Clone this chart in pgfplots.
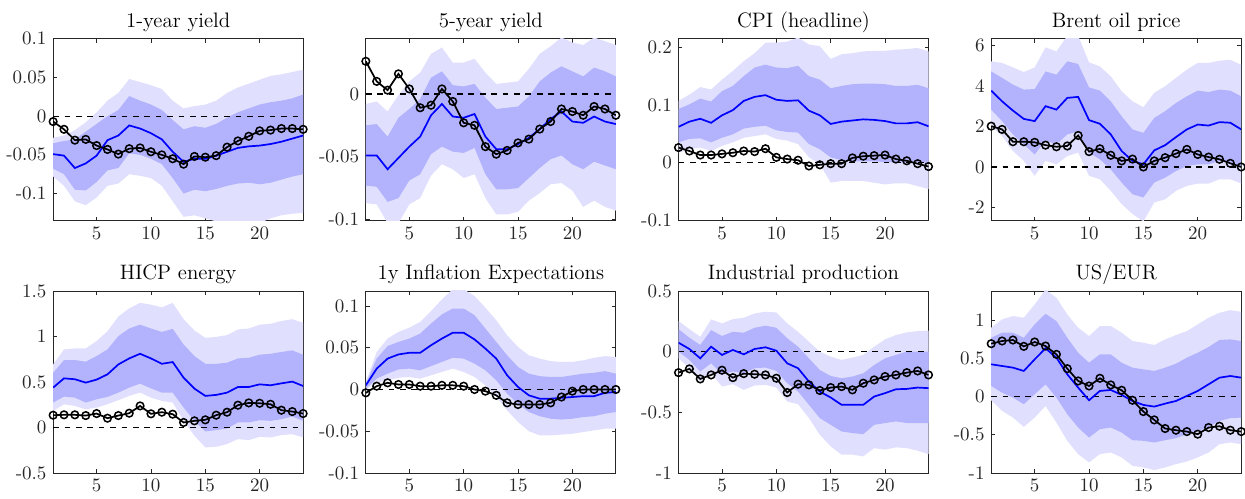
\documentclass[border=0pt]{standalone}
\usepackage{pgfplots}
\pgfplotsset{compat=1.18}
\usepackage{pgfplotstable}
\usepgfplotslibrary{groupplots,fillbetween}

\definecolor{bandlight}{RGB}{224,224,254}
\definecolor{banddark}{RGB}{179,179,253}
\definecolor{axgray}{RGB}{38,38,38}

% columns: horizon, 90% low, 68% low, 68% high, 90% high, median, point estimate
\pgfplotstableread{
x ll dl du lu med blk
1 -0.078 -0.068 -0.035 -0.028 -0.049 -0.007
2 -0.090 -0.075 -0.032 -0.025 -0.051 -0.017
3 -0.110 -0.095 -0.030 -0.018 -0.067 -0.031
4 -0.115 -0.096 -0.020 -0.008 -0.061 -0.030
5 -0.105 -0.085 -0.010 0.005 -0.051 -0.038
6 -0.090 -0.070 0.000 0.020 -0.031 -0.043
7 -0.087 -0.067 0.008 0.030 -0.025 -0.049
8 -0.075 -0.048 0.026 0.048 -0.012 -0.042
9 -0.077 -0.050 0.020 0.044 -0.016 -0.041
10 -0.080 -0.055 0.015 0.040 -0.022 -0.046
11 -0.090 -0.062 0.008 0.035 -0.030 -0.050
12 -0.110 -0.080 -0.005 0.020 -0.046 -0.055
13 -0.130 -0.100 -0.017 0.010 -0.059 -0.062
14 -0.128 -0.095 -0.013 0.013 -0.055 -0.052
15 -0.132 -0.097 -0.015 0.015 -0.055 -0.053
16 -0.136 -0.094 -0.010 0.020 -0.051 -0.051
17 -0.138 -0.090 -0.002 0.030 -0.046 -0.040
18 -0.138 -0.087 0.005 0.037 -0.041 -0.032
19 -0.138 -0.086 0.010 0.042 -0.039 -0.026
20 -0.138 -0.088 0.015 0.047 -0.038 -0.019
21 -0.132 -0.086 0.018 0.052 -0.036 -0.018
22 -0.128 -0.082 0.020 0.054 -0.033 -0.016
23 -0.126 -0.078 0.023 0.057 -0.029 -0.016
24 -0.125 -0.075 0.028 0.060 -0.025 -0.017
}\tabA

\pgfplotstableread{
x ll dl du lu med blk
1 -0.087 -0.073 -0.025 -0.008 -0.049 0.026
2 -0.088 -0.074 -0.024 -0.006 -0.049 0.010
3 -0.103 -0.086 -0.034 -0.014 -0.060 0.003
4 -0.103 -0.083 -0.019 -0.001 -0.051 0.016
5 -0.088 -0.069 -0.012 0.010 -0.042 0.004
6 -0.083 -0.064 -0.004 0.017 -0.034 -0.011
7 -0.065 -0.048 0.013 0.032 -0.017 -0.009
8 -0.056 -0.042 0.018 0.037 -0.008 0.004
9 -0.060 -0.046 0.007 0.025 -0.018 -0.006
10 -0.067 -0.047 0.006 0.025 -0.019 -0.023
11 -0.064 -0.043 0.008 0.028 -0.016 -0.025
12 -0.083 -0.064 -0.003 0.017 -0.034 -0.042
13 -0.096 -0.076 -0.012 0.008 -0.044 -0.048
14 -0.096 -0.076 -0.011 0.009 -0.044 -0.045
15 -0.094 -0.075 -0.010 0.010 -0.040 -0.039
16 -0.085 -0.067 -0.002 0.020 -0.035 -0.036
17 -0.079 -0.059 0.010 0.032 -0.028 -0.028
18 -0.072 -0.052 0.017 0.038 -0.020 -0.022
19 -0.071 -0.049 0.022 0.045 -0.014 -0.012
20 -0.077 -0.056 0.018 0.041 -0.022 -0.014
21 -0.090 -0.060 0.014 0.039 -0.023 -0.017
22 -0.085 -0.054 0.021 0.045 -0.018 -0.010
23 -0.090 -0.057 0.018 0.042 -0.022 -0.012
24 -0.093 -0.060 0.014 0.039 -0.024 -0.017
}\tabB

\pgfplotstableread{
x ll dl du lu med blk
1 0.017 0.035 0.093 0.107 0.062 0.026
2 0.023 0.041 0.101 0.118 0.071 0.020
3 0.026 0.042 0.111 0.131 0.076 0.013
4 0.020 0.035 0.106 0.127 0.069 0.013
5 0.029 0.043 0.124 0.144 0.082 0.015
6 0.035 0.049 0.133 0.159 0.091 0.017
7 0.043 0.059 0.150 0.176 0.107 0.020
8 0.046 0.062 0.165 0.190 0.114 0.019
9 0.049 0.064 0.170 0.208 0.117 0.024
10 0.041 0.056 0.165 0.208 0.109 0.009
11 0.038 0.053 0.164 0.210 0.107 0.006
12 0.032 0.052 0.168 0.217 0.108 0.004
13 0.009 0.032 0.150 0.205 0.090 -0.006
14 -0.003 0.023 0.144 0.202 0.082 -0.004
15 -0.035 0.009 0.129 0.180 0.067 -0.002
16 -0.032 0.004 0.133 0.188 0.071 -0.002
17 -0.032 0.002 0.136 0.190 0.073 0.008
18 -0.032 0.002 0.137 0.193 0.075 0.011
19 -0.035 0.002 0.137 0.194 0.074 0.012
20 -0.038 0.001 0.136 0.194 0.072 0.013
21 -0.036 0.000 0.133 0.196 0.068 0.006
22 -0.036 0.000 0.133 0.197 0.068 0.003
23 -0.041 0.001 0.135 0.199 0.070 -0.002
24 -0.046 -0.001 0.129 0.193 0.063 -0.007
}\tabC

\pgfplotstableread{
x ll dl du lu med blk
1 2.02 2.84 4.73 5.23 3.78 2.02
2 1.53 2.27 4.41 5.15 3.25 1.86
3 0.79 1.61 4.08 4.93 2.79 1.25
4 0.30 1.12 3.83 4.70 2.38 1.25
5 -0.44 0.62 3.86 4.93 2.27 1.22
6 0.30 1.31 4.73 5.92 3.01 1.08
7 0.13 1.12 4.57 5.72 2.84 1.00
8 0.54 1.61 5.23 6.50 3.42 1.04
9 0.71 1.77 5.10 6.50 3.47 1.56
10 -0.44 0.71 3.94 5.18 2.32 0.76
11 -0.61 0.38 3.78 4.98 2.14 0.90
12 -1.18 -0.12 3.25 4.49 1.61 0.58
13 -1.84 -0.77 2.51 3.75 0.79 0.30
14 -2.33 -1.35 1.86 3.25 0.30 0.39
15 -2.70 -1.51 1.69 2.96 0.13 0.00
16 -1.76 -0.77 2.43 3.67 0.82 0.30
17 -1.60 -0.53 2.76 4.00 1.08 0.46
18 -1.18 -0.20 3.17 4.41 1.48 0.66
19 -0.94 0.05 3.50 4.82 1.86 0.87
20 -0.82 0.13 3.78 5.15 2.10 0.62
21 -0.82 0.13 3.71 5.15 2.05 0.49
22 -0.61 0.30 3.83 5.26 2.22 0.38
23 -0.61 0.25 3.78 5.31 2.19 0.18
24 -0.82 -0.03 3.50 5.06 1.86 0.00
}\tabD

\pgfplotstableread{
x ll dl du lu med blk
1 0.182 0.274 0.602 0.693 0.438 0.135
2 0.255 0.339 0.741 0.858 0.540 0.139
3 0.237 0.328 0.741 0.869 0.530 0.139
4 0.200 0.274 0.723 0.869 0.493 0.131
5 0.219 0.310 0.785 0.950 0.526 0.153
6 0.255 0.336 0.858 1.058 0.584 0.102
7 0.300 0.383 1.004 1.220 0.693 0.131
8 0.347 0.438 1.088 1.310 0.759 0.157
9 0.383 0.482 1.130 1.370 0.810 0.237
10 0.328 0.430 1.088 1.350 0.759 0.150
11 0.292 0.383 1.050 1.320 0.700 0.168
12 0.274 0.383 1.084 1.370 0.719 0.146
13 0.073 0.219 0.912 1.190 0.547 0.055
14 -0.091 0.073 0.785 1.066 0.427 0.073
15 -0.219 -0.044 0.700 0.985 0.347 0.084
16 -0.212 -0.029 0.700 0.996 0.358 0.135
17 -0.182 -0.011 0.712 1.015 0.383 0.168
18 -0.128 0.055 0.759 1.077 0.445 0.245
19 -0.139 0.055 0.766 1.088 0.445 0.270
20 -0.102 0.080 0.800 1.130 0.474 0.266
21 -0.110 0.073 0.810 1.140 0.464 0.255
22 -0.084 0.091 0.830 1.170 0.485 0.190
23 -0.073 0.120 0.847 1.190 0.504 0.175
24 -0.110 0.073 0.800 1.150 0.456 0.153
}\tabE

\pgfplotstableread{
x ll dl du lu med blk
1 0.000 0.001 0.007 0.009 0.005 -0.004
2 0.008 0.013 0.037 0.045 0.025 0.004
3 0.011 0.019 0.052 0.061 0.037 0.008
4 0.014 0.024 0.057 0.069 0.042 0.006
5 0.015 0.025 0.061 0.074 0.044 0.006
6 0.013 0.023 0.067 0.081 0.044 0.004
7 0.017 0.028 0.079 0.094 0.053 0.004
8 0.021 0.033 0.090 0.108 0.061 0.005
9 0.025 0.038 0.097 0.120 0.068 0.005
10 0.021 0.037 0.097 0.120 0.068 0.004
11 0.015 0.031 0.089 0.112 0.060 0.000
12 0.005 0.023 0.073 0.098 0.049 -0.002
13 -0.009 0.011 0.057 0.083 0.037 -0.007
14 -0.025 -0.005 0.041 0.065 0.017 -0.016
15 -0.039 -0.017 0.027 0.051 0.003 -0.018
16 -0.050 -0.027 0.019 0.041 -0.007 -0.018
17 -0.055 -0.032 0.016 0.037 -0.011 -0.018
18 -0.055 -0.035 0.015 0.034 -0.011 -0.016
19 -0.054 -0.036 0.015 0.033 -0.010 -0.009
20 -0.053 -0.035 0.017 0.033 -0.009 -0.002
21 -0.051 -0.033 0.019 0.035 -0.008 0.000
22 -0.049 -0.032 0.020 0.038 -0.008 0.000
23 -0.047 -0.029 0.022 0.040 -0.004 0.000
24 -0.047 -0.027 0.019 0.039 -0.003 0.000
}\tabF

\pgfplotstableread{
x ll dl du lu med blk
1 -0.055 0.000 0.186 0.252 0.074 -0.173
2 -0.137 -0.068 0.115 0.186 0.022 -0.142
3 -0.247 -0.164 0.055 0.123 -0.055 -0.225
4 -0.178 -0.096 0.178 0.266 0.041 -0.192
5 -0.288 -0.186 0.129 0.233 -0.027 -0.153
6 -0.268 -0.164 0.164 0.268 0.014 -0.214
7 -0.315 -0.178 0.156 0.279 -0.022 -0.181
8 -0.279 -0.137 0.197 0.315 0.022 -0.186
9 -0.274 -0.131 0.214 0.329 0.036 -0.192
10 -0.296 -0.159 0.197 0.323 0.008 -0.219
11 -0.411 -0.260 0.110 0.233 -0.096 -0.337
12 -0.433 -0.329 0.041 0.164 -0.137 -0.268
13 -0.548 -0.438 -0.055 0.082 -0.247 -0.274
14 -0.685 -0.548 -0.151 0.000 -0.329 -0.320
15 -0.781 -0.603 -0.200 -0.041 -0.378 -0.296
16 -0.849 -0.658 -0.219 -0.068 -0.438 -0.288
17 -0.849 -0.671 -0.205 -0.049 -0.438 -0.315
18 -0.863 -0.680 -0.178 -0.027 -0.438 -0.260
19 -0.795 -0.603 -0.110 0.041 -0.370 -0.233
20 -0.808 -0.589 -0.055 0.101 -0.342 -0.205
21 -0.789 -0.575 -0.027 0.137 -0.310 -0.192
22 -0.795 -0.589 0.000 0.159 -0.307 -0.173
23 -0.817 -0.589 0.000 0.170 -0.296 -0.159
24 -0.845 -0.589 0.000 0.173 -0.301 -0.192
}\tabG

\pgfplotstableread{
x ll dl du lu med blk
1 -0.048 0.139 0.771 0.902 0.423 0.693
2 -0.187 0.052 0.837 1.011 0.401 0.728
3 -0.275 -0.013 0.837 1.055 0.379 0.741
4 -0.397 -0.100 0.771 1.033 0.336 0.658
5 -0.275 0.031 0.946 1.207 0.488 0.715
6 -0.122 0.161 1.085 1.400 0.632 0.662
7 -0.340 -0.013 0.989 1.294 0.510 0.553
8 -0.579 -0.231 0.771 1.076 0.292 0.366
9 -0.754 -0.405 0.575 0.902 0.118 0.205
10 -0.861 -0.536 0.444 0.793 -0.048 0.139
11 -0.754 -0.427 0.553 0.924 0.074 0.240
12 -0.732 -0.405 0.553 0.924 0.087 0.153
13 -0.797 -0.471 0.444 0.837 0.022 0.083
14 -0.906 -0.571 0.379 0.728 -0.057 -0.048
15 -0.928 -0.579 0.357 0.706 -0.109 -0.196
16 -0.963 -0.601 0.336 0.675 -0.131 -0.305
17 -0.928 -0.571 0.379 0.749 -0.092 -0.418
18 -0.884 -0.545 0.431 0.806 -0.057 -0.440
19 -0.850 -0.492 0.510 0.858 0.009 -0.458
20 -0.797 -0.449 0.575 0.946 0.074 -0.492
21 -0.732 -0.397 0.649 1.033 0.161 -0.405
22 -0.623 -0.318 0.741 1.098 0.248 -0.388
23 -0.601 -0.283 0.749 1.133 0.270 -0.440
24 -0.623 -0.275 0.728 1.111 0.248 -0.458
}\tabH

\newcommand{\irf}[1]{%
  \addplot[name path=lu, draw=none] table[x=x, y=lu] {#1};
  \addplot[name path=ll, draw=none] table[x=x, y=ll] {#1};
  \addplot[fill=bandlight, draw=none] fill between[of=lu and ll];
  \addplot[name path=du, draw=none] table[x=x, y=du] {#1};
  \addplot[name path=dl, draw=none] table[x=x, y=dl] {#1};
  \addplot[fill=banddark, draw=none] fill between[of=du and dl];
  \addplot[black, dashed, line width=0.6pt] coordinates {(1,0) (24,0)};
  \addplot[blue, line width=0.9pt] table[x=x, y=med] {#1};
  \addplot[black, line width=0.9pt, mark=o, mark size=2pt,
    mark options={solid, line width=0.8pt}] table[x=x, y=blk] {#1};
}

\begin{document}
\begin{tikzpicture}
\begin{groupplot}[
  group style={group size=4 by 2, horizontal sep=33pt, vertical sep=37pt},
  scale only axis,
  width=131.6pt, height=95.8pt,
  xmin=1, xmax=24,
  xtick={5,10,15,20},
  tick align=inside,
  major tick length=2pt,
  axis line style={axgray, line width=0.4pt},
  every tick/.style={axgray, line width=0.4pt},
  tick label style={font=\fontsize{10}{12}\selectfont, text=axgray},
  every axis title shift=0pt,
  title style={font=\fontsize{11}{13}\selectfont, at={(0.5,1)}, anchor=base, yshift=5.8pt},
  clip=true,
]
\nextgroupplot[title={1-year yield}, ymin=-0.135, ymax=0.1,
  ytick={-0.1,-0.05,0,0.05,0.1}, yticklabels={-0.1,-0.05,0,0.05,0.1}]
\irf{\tabA}
\nextgroupplot[title={5-year yield}, ymin=-0.101, ymax=0.044,
  ytick={-0.1,-0.05,0}, yticklabels={-0.1,-0.05,0}]
\irf{\tabB}
\nextgroupplot[title={CPI (headline)}, ymin=-0.101, ymax=0.215,
  ytick={-0.1,0,0.1,0.2}, yticklabels={-0.1,0,0.1,0.2}]
\irf{\tabC}
\nextgroupplot[title={Brent oil price}, ymin=-2.66, ymax=6.35,
  ytick={-2,0,2,4,6}, yticklabels={-2,0,2,4,6}]
\irf{\tabD}
\nextgroupplot[title={HICP energy}, ymin=-0.5, ymax=1.5,
  ytick={-0.5,0,0.5,1,1.5}, yticklabels={-0.5,0,0.5,1,1.5}]
\irf{\tabE}
\nextgroupplot[title={1y Inflation Expectations}, ymin=-0.1, ymax=0.118,
  ytick={-0.1,-0.05,0,0.05,0.1}, yticklabels={-0.1,-0.05,0,0.05,0.1}]
\irf{\tabF}
\nextgroupplot[title={Industrial production}, ymin=-1, ymax=0.5,
  ytick={-1,-0.5,0,0.5}, yticklabels={-1,-0.5,0,0.5}]
\irf{\tabG}
\nextgroupplot[title={US/EUR}, ymin=-1, ymax=1.383,
  ytick={-1,-0.5,0,0.5,1}, yticklabels={-1,-0.5,0,0.5,1}]
\irf{\tabH}
\end{groupplot}
% white margin above the titles, as in the reference
\path (current bounding box.north west) ++(0,3pt);
\end{tikzpicture}
\end{document}
